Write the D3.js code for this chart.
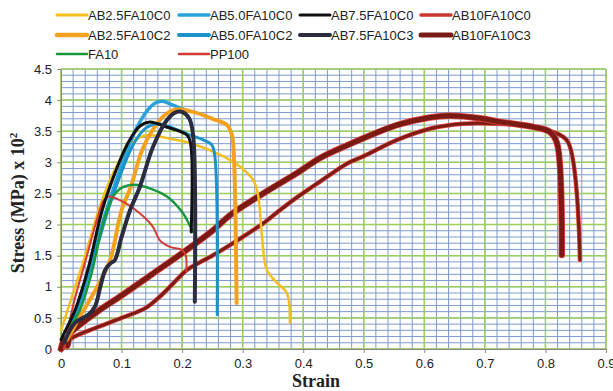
<!DOCTYPE html>
<html><head><meta charset="utf-8">
<script src="https://cdn.jsdelivr.net/npm/d3@7/dist/d3.min.js"></script>
<style>body{margin:0;background:#fff}svg{display:block}</style>
</head><body><svg id="c" width="613" height="391"></svg>
<script>
// ---- data (strain, stress x10^2 MPa) ----
const seriesNames = ["AB2.5FA10C0","AB5.0FA10C0","AB7.5FA10C0","AB10FA10C0","AB2.5FA10C2","AB5.0FA10C2","AB7.5FA10C3","AB10FA10C3","FA10","PP100"];
const xTicks = [0,0.1,0.2,0.3,0.4,0.5,0.6,0.7,0.8,0.9];
const yTicks = [0,0.5,1,1.5,2,2.5,3,3.5,4,4.5];
const AB25C0 = [[0,0.3],[0.02,0.9],[0.04,1.5],[0.061,2.2],[0.078,2.65],[0.095,3.0],[0.115,3.3],[0.13,3.4],[0.144,3.44],[0.18,3.38],[0.213,3.31],[0.263,3.12],[0.296,2.93],[0.317,2.72],[0.325,2.5],[0.332,1.8],[0.34,1.27],[0.357,1.06],[0.373,0.9],[0.378,0.42]];
const AB25C2 = [[0.01,0.15],[0.03,0.5],[0.06,1.0],[0.081,1.43],[0.1,2.23],[0.115,2.6],[0.134,3.2],[0.15,3.5],[0.17,3.75],[0.19,3.85],[0.218,3.81],[0.25,3.7],[0.274,3.6],[0.282,3.45],[0.285,3.2],[0.29,0.74]];
const AB50C0 = [[0.01,0.25],[0.03,0.75],[0.055,1.5],[0.08,2.3],[0.1,2.85],[0.12,3.3],[0.14,3.55],[0.16,3.62],[0.18,3.57],[0.21,3.45],[0.235,3.36],[0.249,3.28],[0.254,3.1],[0.258,0.55]];
const AB50C2 = [[0.01,0.2],[0.03,0.7],[0.05,1.4],[0.075,2.23],[0.1,2.95],[0.12,3.45],[0.14,3.8],[0.155,3.95],[0.168,3.98],[0.18,3.94],[0.2,3.86],[0.212,3.82]];
const AB75C0 = [[0,0.15],[0.005,0.25],[0.023,0.62],[0.045,1.3],[0.068,2.23],[0.09,2.85],[0.11,3.3],[0.13,3.58],[0.147,3.65],[0.17,3.58],[0.208,3.44],[0.214,3.3],[0.215,1.88]];
const AB75C3 = [[0.005,0.1],[0.023,0.42],[0.045,0.55],[0.056,0.68],[0.065,1.0],[0.073,1.27],[0.082,1.38],[0.089,1.43],[0.1,1.8],[0.114,2.23],[0.13,2.6],[0.152,3.25],[0.175,3.68],[0.191,3.81],[0.2,3.81],[0.212,3.7],[0.218,3.45],[0.221,0.76]];
const AB10C0 = [[0,0],[0.008,0.1],[0.02,0.19],[0.06,0.35],[0.1,0.5],[0.14,0.66],[0.163,0.84],[0.185,1.05],[0.208,1.27],[0.25,1.5],[0.279,1.67],[0.3,1.8],[0.334,2.02],[0.36,2.22],[0.39,2.44],[0.42,2.64],[0.444,2.8],[0.474,2.99],[0.5,3.1],[0.555,3.36],[0.609,3.54],[0.664,3.62],[0.72,3.62],[0.78,3.57],[0.812,3.49],[0.837,3.33],[0.857,1.43]];
const AB10C3 = [[0,0],[0.005,0.15],[0.01,0.05],[0.015,0.25],[0.02,0.3],[0.06,0.6],[0.1,0.86],[0.15,1.2],[0.2,1.54],[0.25,1.9],[0.279,2.15],[0.334,2.5],[0.39,2.83],[0.428,3.07],[0.474,3.28],[0.5,3.39],[0.555,3.6],[0.609,3.72],[0.642,3.75],[0.692,3.71],[0.725,3.65],[0.78,3.57],[0.807,3.49],[0.819,3.31],[0.827,1.51]];
const FA10 = [[0.01,0.3],[0.03,0.6],[0.05,1.2],[0.069,2.0],[0.086,2.45],[0.102,2.6],[0.122,2.64],[0.15,2.57],[0.175,2.45],[0.2,2.2],[0.212,2.0],[0.218,1.88]];
const PP100 = [[0.005,0],[0.02,0.7],[0.04,1.4],[0.06,2.1],[0.07,2.38],[0.078,2.45],[0.1,2.38],[0.13,2.18],[0.152,1.96],[0.163,1.75],[0.18,1.64],[0.2,1.59],[0.206,1.5],[0.207,1.25]];

const svg = d3.select("#c");
const L=61,R=606,T=69,B=349;
const x = d3.scaleLinear().domain([0,0.9]).range([L,R]);
const y = d3.scaleLinear().domain([0,4.5]).range([B,T]);

// grid
const g = svg.append("g");
g.selectAll(".vm").data(d3.range(0,46).map(i=>i*0.02)).join("line")
  .attr("x1",d=>x(d)).attr("x2",d=>x(d)).attr("y1",T).attr("y2",B)
  .attr("stroke","#7f9acb").attr("stroke-width",1);
g.selectAll(".hm").data(d3.range(0,46).map(i=>i*0.1)).join("line")
  .attr("x1",L).attr("x2",R).attr("y1",d=>y(d)).attr("y2",d=>y(d))
  .attr("stroke","#7f9acb").attr("stroke-width",1);
g.selectAll(".vM").data(xTicks).join("line")
  .attr("x1",d=>x(d)).attr("x2",d=>x(d)).attr("y1",T).attr("y2",B)
  .attr("stroke","#9ccf5e").attr("stroke-width",1.5);
g.selectAll(".hM").data(yTicks).join("line")
  .attr("x1",L).attr("x2",R).attr("y1",d=>y(d)).attr("y2",d=>y(d))
  .attr("stroke","#9ccf5e").attr("stroke-width",1.5);

// axes
const fmt = d=> d===0?"0":String(d);
const xa = svg.append("g").attr("transform",`translate(0,${B})`)
  .call(d3.axisBottom(x).tickValues(xTicks).tickFormat(fmt).tickSize(4).tickSizeOuter(0));
const ya = svg.append("g").attr("transform",`translate(${L},0)`)
  .call(d3.axisLeft(y).tickValues(yTicks).tickFormat(fmt).tickSize(4).tickSizeOuter(0));
[xa,ya].forEach(a=>{a.select(".domain").attr("stroke","#888");a.selectAll(".tick line").attr("stroke","#888");
  a.selectAll("text").attr("fill","#222").style("font-family","'Liberation Sans Narrow','Arial Narrow',sans-serif").style("font-size","13px");});
xa.selectAll("text").attr("dy","0.9em");
ya.selectAll("text").attr("dx","-2");

svg.append("text").attr("x",316).attr("y",387).attr("text-anchor","middle")
  .style("font-family","'Liberation Serif','Times New Roman',serif").style("font-weight","bold").style("font-size","18px").attr("fill","#222").text("Strain");
svg.append("text").attr("transform","translate(24,203) rotate(-90)").attr("text-anchor","middle")
  .style("font-family","'Liberation Serif','Times New Roman',serif").style("font-weight","bold").style("font-size","18px").attr("fill","#222")
  .html('Stress (MPa) x 10<tspan dy="-7" font-size="11">2</tspan>');

// series
const lineC = d3.line().x(d=>x(d[0])).y(d=>y(d[1])).curve(d3.curveCatmullRom.alpha(0.5));
const series = [
  {data:AB10C0, color:"#7d1c17", w:3, halo:"#e0483e"},
  {data:AB10C3, color:"#7a1a15", w:5, halo:"#e0483e"},
  {data:AB25C0, color:"#f3bf1c", w:2.5},
  {data:AB50C2, color:"#2aa3d9", w:3.5},
  {data:AB25C2, color:"#f2a21e", w:4},
  {data:AB50C0, color:"#1b93c8", w:3},
  {data:FA10, color:"#19973d", w:2.5},
  {data:PP100, color:"#d63a36", w:2},
  {data:AB75C0, color:"#111111", w:3},
  {data:AB75C3, color:"#2b2c3f", w:4},
];
const pg = svg.append("g");
series.forEach(s=>{
  if(s.halo) pg.append("path").attr("d",lineC(s.data)).attr("fill","none").attr("stroke",s.halo).attr("stroke-width",s.w+1.5).attr("stroke-linejoin","round").attr("stroke-linecap","round");
  pg.append("path").attr("d",lineC(s.data)).attr("fill","none").attr("stroke",s.color).attr("stroke-width",s.w).attr("stroke-linejoin","round").attr("stroke-linecap","round");
});

// legend
const legColors = ["#f3bf1c","#29a3da","#111111","#cc3530","#f2a21e","#1b93c8","#2b2c3f","#7a1a15","#19973d","#d63a36"];
const legW = [3,3.5,3,3.5,4.5,4,4,5,2.5,2.5];
const colX = [57,179,300,421], rowY=[15,35,54];
const lg = svg.append("g");
seriesNames.forEach((n,i)=>{
  const cx = colX[i%4], cy = rowY[Math.floor(i/4)];
  lg.append("line").attr("x1",cx).attr("x2",cx+30).attr("y1",cy).attr("y2",cy).attr("stroke",legColors[i]).attr("stroke-width",legW[i]).attr("stroke-linecap","round");
  lg.append("text").attr("x",cx+31).attr("y",cy+4.5).text(n).attr("fill","#222")
    .style("font-family","'Liberation Sans Narrow','Arial Narrow',sans-serif").style("font-size","13px");
});
</script></body></html>
